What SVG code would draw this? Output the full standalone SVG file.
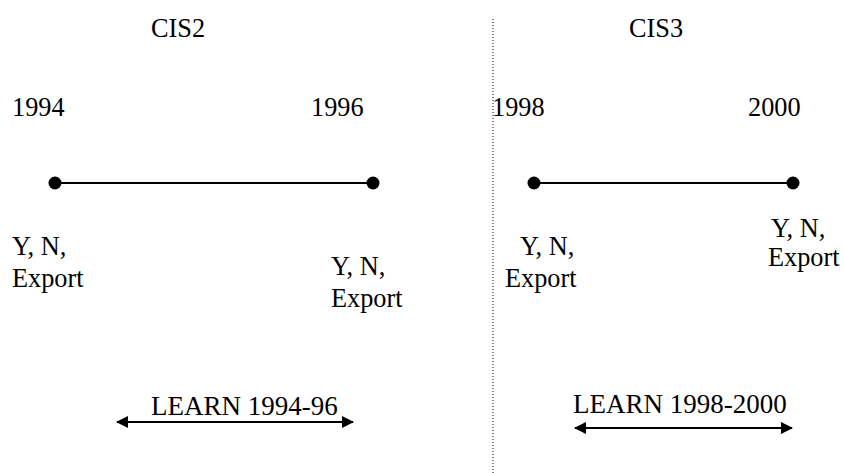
<svg xmlns="http://www.w3.org/2000/svg" width="844" height="473" viewBox="0 0 844 473">
<defs>
<style>
text{font-family:"Liberation Serif","Times New Roman",serif;font-size:26.3px;fill:#000}
text.lg{font-size:27px}
.tl{stroke:#000;stroke-width:2.2;fill:none}
.dot{fill:#000}
.arr{stroke:#000;stroke-width:2.2;fill:none;marker-start:url(#ah);marker-end:url(#ah)}
.div{stroke:#000;stroke-width:1;stroke-dasharray:1 2}
</style>
<marker id="ah" viewBox="0 0 12 12" refX="11" refY="6" markerWidth="12" markerHeight="12" markerUnits="userSpaceOnUse" orient="auto-start-reverse">
<path d="M0,0 L12,6 L0,12 Z" fill="#000"/>
</marker>
</defs>
<g id="divider"><line class="div" x1="493" y1="19" x2="493" y2="473"/></g>
<g id="cis2-title"><text x="151" y="37">CIS2</text></g>
<g id="cis3-title"><text x="629" y="37">CIS3</text></g>
<g id="connectors">
<line class="tl" x1="55" y1="183" x2="373" y2="183"/>
<line class="tl" x1="534" y1="183" x2="793" y2="183"/>
<line class="arr" x1="117" y1="422" x2="353" y2="422"/>
<line class="arr" x1="575" y1="428" x2="792" y2="428"/>
</g>
<g id="n1994"><circle class="dot" cx="55" cy="183" r="6.5"/><text x="12" y="116">1994</text><text x="12" y="255">Y, N,</text><text x="12" y="287">Export</text></g>
<g id="n1996"><circle class="dot" cx="373" cy="183" r="6.5"/><text x="311" y="116">1996</text><text x="331" y="275">Y, N,</text><text x="331" y="307">Export</text></g>
<g id="n1998"><circle class="dot" cx="534" cy="183" r="6.5"/><text x="492" y="116">1998</text><text x="520" y="255">Y, N,</text><text x="505" y="287">Export</text></g>
<g id="n2000"><circle class="dot" cx="793" cy="183" r="6.5"/><text x="748" y="116">2000</text><text x="771" y="237">Y, N,</text><text x="768" y="266">Export</text></g>
<g id="learn1"><text class="lg" x="151" y="415">LEARN 1994-96</text></g>
<g id="learn2"><text class="lg" x="573" y="413">LEARN 1998-2000</text></g>
</svg>
